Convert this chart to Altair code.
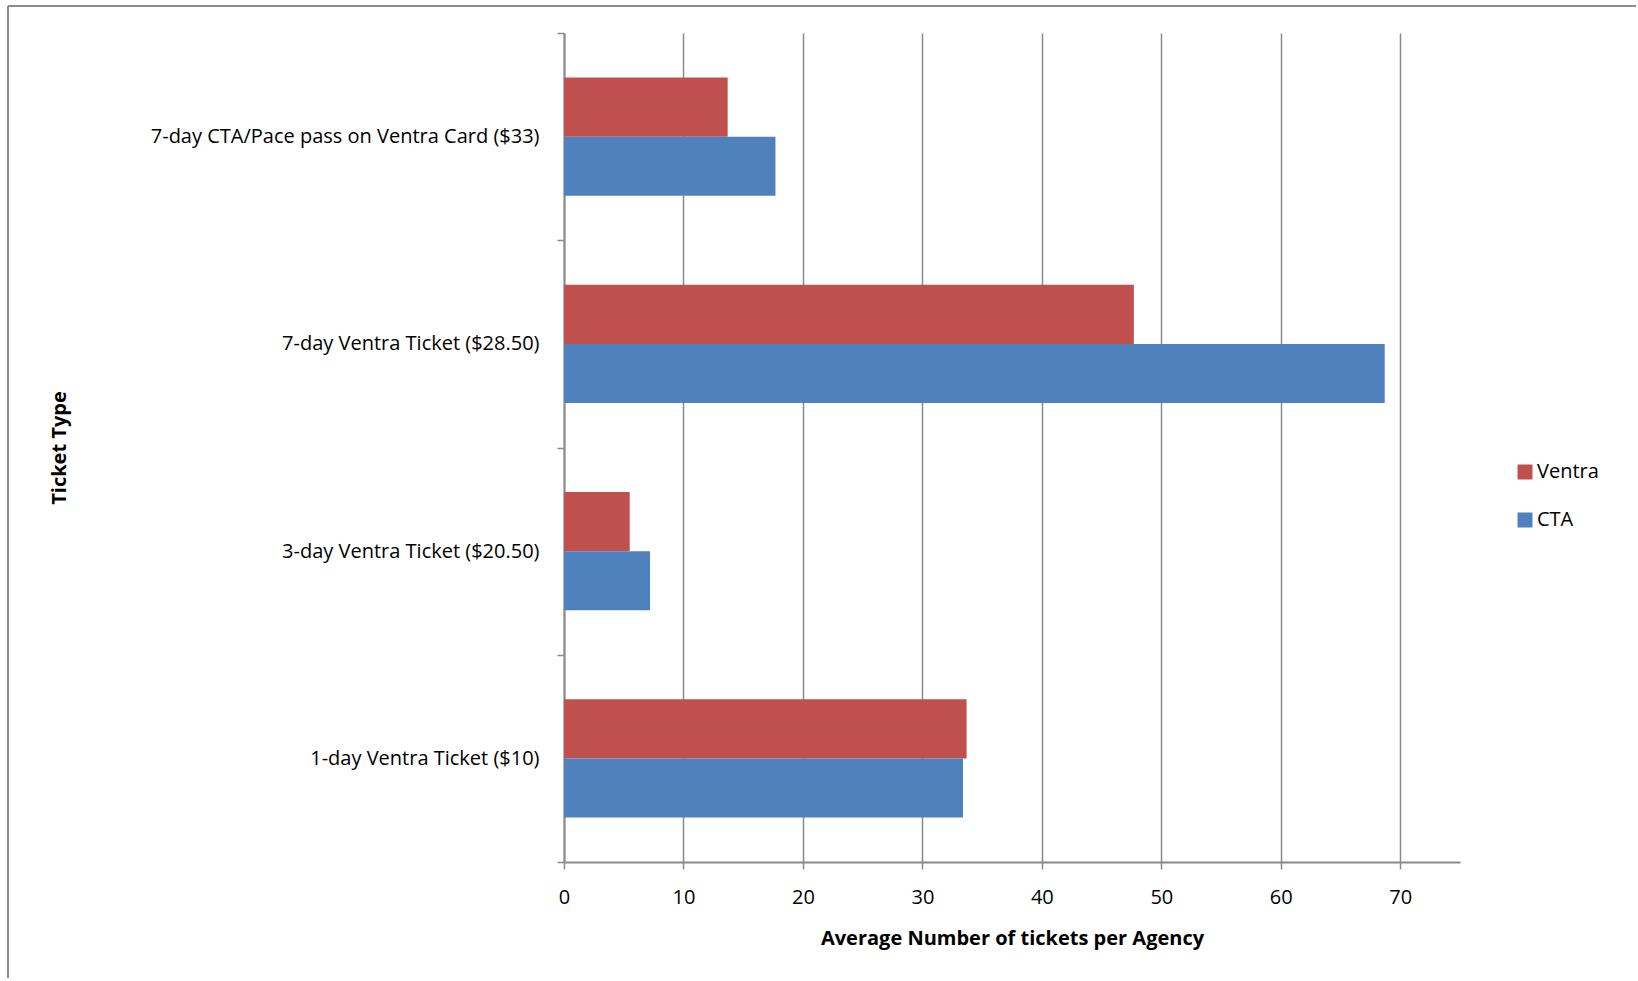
import altair as alt
import pandas as pd

categories = [
    "7-day CTA/Pace pass on Ventra Card ($33)",
    "7-day Ventra Ticket ($28.50)",
    "3-day Ventra Ticket ($20.50)",
    "1-day Ventra Ticket ($10)",
]
series = ["Ventra", "CTA"]
ventra = [13.7, 47.7, 5.5, 33.7]
cta = [17.7, 68.7, 7.2, 33.4]
x_ticks = [0, 10, 20, 30, 40, 50, 60, 70]
colors = ["#C0504D", "#4F81BD"]

rows = []
for c, v, t in zip(categories, ventra, cta):
    rows.append({"Ticket Type": c, "Agency": "Ventra", "Value": v})
    rows.append({"Ticket Type": c, "Agency": "CTA", "Value": t})
df = pd.DataFrame(rows)

FONT = "Open Sans"
FS = 20
GRAY = "#8a8a8a"
W, H = 896, 829
LEFT, TOP = 564, 33

bars = alt.Chart(df).mark_bar().encode(
    x=alt.X(
        "Value:Q",
        scale=alt.Scale(domain=[0, 75], nice=False, zero=True),
        axis=alt.Axis(
            values=x_ticks,
            title="Average Number of tickets per Agency",
            grid=True,
            gridColor=GRAY,
            gridWidth=1.5,
            domainColor=GRAY,
            domainWidth=2,
            tickColor=GRAY,
            tickWidth=1.5,
            tickSize=7,
            labelFlush=False,
            labelPadding=18,
            labelFontSize=FS,
            titleFontSize=FS,
            titleFontWeight="bold",
            titleY=76,
            titleBaseline="middle",
        ),
    ),
    y=alt.Y(
        "Ticket Type:N",
        sort=categories,
        scale=alt.Scale(paddingInner=0, paddingOuter=0),
        axis=alt.Axis(
            title="Ticket Type",
            tickBand="extent",
            domainColor=GRAY,
            domainWidth=2,
            tickColor=GRAY,
            tickWidth=1.5,
            tickSize=7,
            labelPadding=18,
            labelFontSize=FS,
            labelLimit=600,
            titleFontSize=FS,
            titleFontWeight="bold",
            titleAngle=270,
            titleX=-505,
            titleY=H / 2,
            titleAlign="center",
            titleBaseline="middle",
        ),
    ),
    yOffset=alt.YOffset(
        "Agency:N",
        sort=series,
        scale=alt.Scale(paddingInner=0, paddingOuter=0.754),
    ),
    color=alt.Color(
        "Agency:N",
        sort=series,
        scale=alt.Scale(domain=series, range=colors),
        legend=alt.Legend(
            title=None,
            orient="none",
            legendX=951,
            legendY=429,
            symbolType="square",
            symbolSize=225,
            symbolStrokeWidth=0,
            labelFontSize=FS,
            labelOffset=2,
            rowPadding=28,
        ),
    ),
)

frame_df = pd.DataFrame({"k": [0]})
top_line = alt.Chart(frame_df).mark_rule(color="#8c8c8c", strokeWidth=2).encode(
    x=alt.value(8 - LEFT), x2=alt.value(1640 - LEFT), y=alt.value(6 - TOP)
)
left_line = alt.Chart(frame_df).mark_rule(color="#8c8c8c", strokeWidth=2).encode(
    x=alt.value(8 - LEFT), y=alt.value(6 - TOP), y2=alt.value(990 - TOP)
)

chart = (
    alt.layer(bars, top_line, left_line)
    .properties(
        width=W,
        height=H,
        autosize=alt.AutoSizeParams(type="none"),
        padding={"left": LEFT, "top": TOP, "right": 1636 - LEFT - W, "bottom": 978 - TOP - H},
        background="white",
    )
    .configure_view(stroke=None)
    .configure_axis(labelFont=FONT, titleFont=FONT, labelColor="#000000", titleColor="#000000")
    .configure_legend(labelFont=FONT, labelColor="#000000")
)

chart.save("out.html", embed_options={"renderer": "svg", "actions": False})
